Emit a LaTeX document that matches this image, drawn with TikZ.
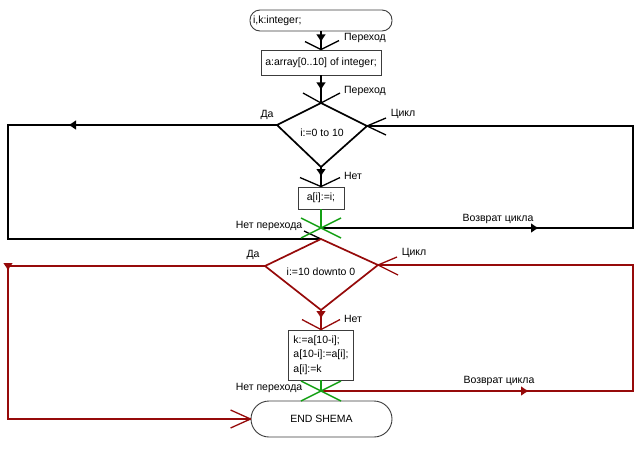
\documentclass[tikz,border=0pt]{standalone}
\usepackage{fontspec}
\setmainfont{Liberation Sans}
\usetikzlibrary{arrows.meta,decorations.markings}

\definecolor{tsikl}{RGB}{150,10,10}
\definecolor{perekhod}{RGB}{20,160,20}
\definecolor{ramka}{RGB}{60,60,60}

\begin{document}
\begin{tikzpicture}[x=1pt,y=-1pt,
    font=\fontsize{10.5}{12}\selectfont,
    blok/.style={draw=ramka, line width=0.9pt, inner sep=3pt},
    oval/.style={blok, rounded corners=10pt},
    potok/.style={line width=1.7pt},
    vilka/.style={line width=1.3pt},
    uzel/.style={perekhod, line width=1.5pt},
    strelka/.style={postaction={decorate},
        decoration={markings, mark=at position #1 with {\arrow{Latex[length=8pt,width=10pt]}}}},
    podpis/.style={inner sep=0pt}
]
    % Фон и размеры
    \fill[white] (0,0) rectangle (640,448);

    % Начало и описание
    \node[oval, minimum height=21pt, text width=136pt, align=left] (nach) at (321,20.5) {i,k:integer;};
    \node[blok, minimum width=120pt, minimum height=25pt] (obyav) at (321,62.5) {a:array[0..10] of integer;};

    \draw[potok, strelka=11pt] (nach) -- (obyav);
    \draw[vilka] (obyav.north) -- ++(-16,-8) (obyav.north) -- ++(18,-9);
    \node[podpis] (per1) at (365,38) {Переход};

    % Первый цикл (чёрный)
    \coordinate (r1v) at (321,103);
    \coordinate (r1l) at (277,125);
    \coordinate (r1p) at (367,126);
    \coordinate (r1n) at (321,167);
    \draw[potok] (r1v) -- (r1p) -- (r1n) -- (r1l) -- cycle;
    \node (r1) at (322,133) {i:=0 to 10};

    \draw[potok, strelka=15pt] (obyav) -- (r1v);
    \draw[vilka] (r1v) -- ++(-18,-10) (r1v) -- ++(19,-10);
    \node[podpis] (per2) at (365,91) {Переход};

    \node[blok, minimum width=46pt, minimum height=22pt] (telo1) at (321,198) {a[i]:=i;};
    \draw[potok, strelka=10pt] (r1n) -- (telo1);
    \draw[vilka] (telo1.north) -- ++(-21,-9) (telo1.north) -- ++(19,-9);
    \node[podpis] (net1) at (353,176) {Нет};

    % Узел возврата
    \coordinate (u1) at (321,228);
    \draw[uzel] (telo1) -- (u1);
    \draw[potok, strelka=218pt] (u1) -- ++(312,0) |- (r1p);
    \draw[vilka] (r1p) -- ++(19,-8) (r1p) -- ++(19,9);
    \node[podpis] (tsikl1) at (403,114) {Цикл};
    \node[podpis] (vozv1) at (498,219) {Возврат цикла};

    % Выход из первого цикла
    \coordinate (r2v) at (321,239);
    \draw[potok, strelka=209pt] (r1l) -- ++(-269,0) |- (r2v);
    \draw[vilka] (r2v) -- ++(-17,-8);
    \node[podpis] (da1) at (267,115) {Да};
    \node[podpis] (nper1) at (269,226) {Нет перехода};
    \draw[uzel] (u1) ++(-20,-10) -- ++(40,20) (u1) ++(20,-10) -- ++(-40,20);

    % Второй цикл (красный)
    \coordinate (r2l) at (265,266);
    \coordinate (r2p) at (378,265);
    \coordinate (r2n) at (321,310);
    \draw[potok, tsikl] (r2v) -- (r2p) -- (r2n) -- (r2l) -- cycle;
    \node (r2) at (321,272) {i:=10 downto 0};

    \node[blok, minimum width=65pt, minimum height=50pt, align=left,
          font=\fontsize{10.5}{14.5}\selectfont] (telo2) at (321,355) {k:=a[10-i];\\a[10-i]:=a[i];\\a[i]:=k};
    \draw[potok, tsikl, strelka=9pt] (r2n) -- (telo2);
    \draw[vilka, tsikl] (telo2.north) -- ++(-19,-10) (telo2.north) -- ++(19,-10);
    \node[podpis] (net2) at (353,319) {Нет};

    \coordinate (u2) at (321,391);
    \draw[uzel] (telo2) -- (u2);
    \draw[potok, tsikl, strelka=208pt] (u2) -- ++(312,0) |- (r2p);
    \draw[vilka, tsikl] (r2p) -- ++(19,-8) (r2p) -- ++(20,10);
    \node[podpis] (tsikl2) at (414,253) {Цикл};
    \node[podpis] (vozv2) at (499,381) {Возврат цикла};

    % Конец
    \node[oval, rounded corners=18pt, minimum width=141pt, minimum height=36pt] (konets) at (321.5,419) {END SHEMA};
    \draw[potok, tsikl, strelka=262pt] (r2l) -- ++(-257,0) |- (konets);
    \draw[vilka, tsikl] (konets.west) -- ++(-20,-9) (konets.west) -- ++(-20,9);
    \node[podpis] (da2) at (253,255) {Да};
    \node[podpis] (nper2) at (269,388) {Нет перехода};
    \draw[uzel] (u2) ++(-20,-10) -- ++(40,20) (u2) ++(20,-10) -- ++(-40,20);
\end{tikzpicture}
\end{document}
